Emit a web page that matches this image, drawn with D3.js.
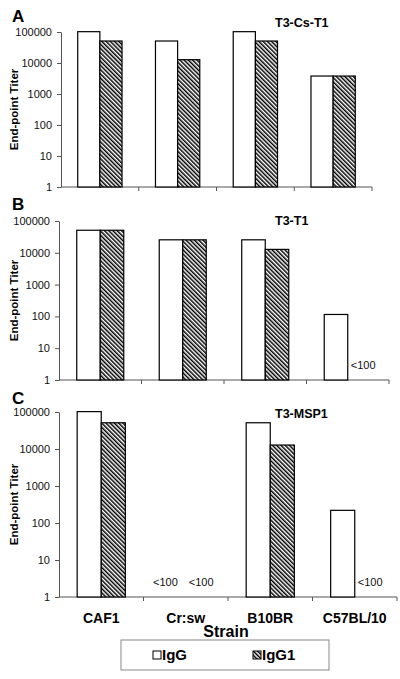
<!DOCTYPE html>
<html><head><meta charset="utf-8">
<script src="https://cdn.jsdelivr.net/npm/d3@7"></script>
<style>body{margin:0;background:#fff}svg{display:block;font-family:Arial,"Liberation Sans",sans-serif}</style>
</head><body><svg id="c" width="400" height="679"></svg>
<script>
const categories = ["CAF1", "Cr:sw", "B10BR", "C57BL/10"];
const series = ["IgG", "IgG1"];
const panelLetters = ["A", "B", "C"];
const panelTitles = ["T3-Cs-T1", "T3-T1", "T3-MSP1"];
const yTickValues = [1, 10, 100, 1000, 10000, 100000];
const yTickLabels = ["1", "10", "100", "1000", "10000", "100000"];
// values per panel (null = below detection, "<100")
const panelA_IgG  = [102400, 51200, 102400, 3800];
const panelA_IgG1 = [51200, 12800, 51200, 3800];
const panelB_IgG  = [51200, 25600, 25600, 115];
const panelB_IgG1 = [51200, 25600, 12800, null];
const panelC_IgG  = [102400, null, 51200, 220];
const panelC_IgG1 = [51200, null, 12800, null];
const belowLabel = "<100";
const yAxisTitle = "End-point Titer";
const xAxisTitle = "Strain";

const panelValues = [[panelA_IgG, panelA_IgG1],[panelB_IgG, panelB_IgG1],[panelC_IgG, panelC_IgG1]];
const layout = [
  {x0:61, x1:372, yTop:32,  yBot:187, letterY:22,  titleY:27},
  {x0:59, x1:389, yTop:221, yBot:380, letterY:210, titleY:225},
  {x0:59, x1:397, yTop:412, yBot:597, letterY:404, titleY:418}
];

const svg = d3.select("#c");
const defs = svg.append("defs");
const pat = defs.append("pattern").attr("id","hatch").attr("patternUnits","userSpaceOnUse")
  .attr("width",3).attr("height",3).attr("patternTransform","rotate(-45)");
pat.append("rect").attr("width",3).attr("height",3).attr("fill","#fff");
pat.append("line").attr("x1",0.75).attr("y1",0).attr("x2",0.75).attr("y2",3).attr("stroke","#000").attr("stroke-width",1.5);
const fills = ["#fff","url(#hatch)"];

panelValues.forEach((vals, pi) => {
  const L = layout[pi];
  const g = svg.append("g");
  const x = d3.scaleBand().domain(categories).range([L.x0, L.x1]).padding(0);
  const bw = x.bandwidth();
  const xs = d3.scaleBand().domain(series).range([bw*0.215, bw*0.785]).padding(0);
  const y = d3.scaleLog().domain([1, 100000]).range([L.yBot, L.yTop]);

  // y axis
  const ya = d3.axisLeft(y).tickValues(yTickValues).tickFormat((d,i)=>yTickLabels[i]).tickSize(4).tickPadding(5).tickSizeOuter(0);
  const yg = g.append("g").attr("transform",`translate(${L.x0},0)`).call(ya);
  yg.select(".domain").attr("stroke","#555");
  yg.selectAll(".tick line").attr("stroke","#555");
  yg.selectAll(".tick text").attr("font-size",11).attr("fill","#111").attr("font-family","Arial, 'Liberation Sans', sans-serif");

  // x axis line and ticks at band boundaries
  g.append("line").attr("x1",L.x0).attr("x2",L.x1).attr("y1",L.yBot).attr("y2",L.yBot).attr("stroke","#555");
  const bounds = categories.map(c => x(c) + bw).concat([]);
  g.selectAll(".xt").data(bounds).join("line").attr("x1",d=>d).attr("x2",d=>d)
    .attr("y1",L.yBot).attr("y2",L.yBot+4).attr("stroke","#555");

  // bars
  series.forEach((s, si) => {
    const data = categories.map((c, ci) => ({c, v: vals[si][ci]}));
    g.selectAll(".bar"+si).data(data.filter(d=>d.v!=null)).join("rect")
      .attr("x", d => x(d.c) + xs(s))
      .attr("width", xs.bandwidth())
      .attr("y", d => y(d.v))
      .attr("height", d => L.yBot - y(d.v))
      .attr("fill", fills[si]).attr("stroke","#000").attr("stroke-width",1.2);
    g.selectAll(".lbl"+si).data(data.filter(d=>d.v==null)).join("text")
      .attr("x", d => x(d.c) + bw/2 + (si===0 ? -8 : 3))
      .attr("y", L.yBot - 11)
      .attr("text-anchor", si===0 ? "end" : "start")
      .attr("font-size",11).attr("fill","#111").text(belowLabel);
  });

  // y title
  g.append("text").attr("transform",`translate(18,${(L.yTop+L.yBot)/2}) rotate(-90)`)
    .attr("text-anchor","middle").attr("font-size",11.5).attr("font-weight","bold").text(yAxisTitle);
  // panel letter
  g.append("text").attr("x",12).attr("y",L.letterY).attr("font-size",17).attr("font-weight","bold").text(panelLetters[pi]);
  // title
  g.append("text").attr("x",275).attr("y",L.titleY).attr("font-size",12.5).attr("font-weight","bold").text(panelTitles[pi]);

  if (pi === 2) {
    g.selectAll(".cat").data(categories).join("text")
      .attr("x", d => x(d) + bw/2).attr("y", 623).attr("text-anchor","middle")
      .attr("font-size",14).attr("font-weight","bold").text(d=>d);
    g.append("text").attr("x",226).attr("y",637).attr("text-anchor","middle")
      .attr("font-size",16).attr("font-weight","bold").text(xAxisTitle);
  }
});

// legend
const lg = svg.append("g");
lg.append("rect").attr("x",121).attr("y",640).attr("width",208).attr("height",30)
  .attr("fill","#fff").attr("stroke","#888").attr("stroke-width",1);
const legX = [153, 253];
series.forEach((s, si) => {
  lg.append("rect").attr("x",legX[si]).attr("y",651).attr("width",8).attr("height",8)
    .attr("fill",fills[si]).attr("stroke","#000").attr("stroke-width",1);
  lg.append("text").attr("x",legX[si]+9).attr("y",660).attr("font-size",15).attr("font-weight","bold").text(s);
});
</script></body></html>
